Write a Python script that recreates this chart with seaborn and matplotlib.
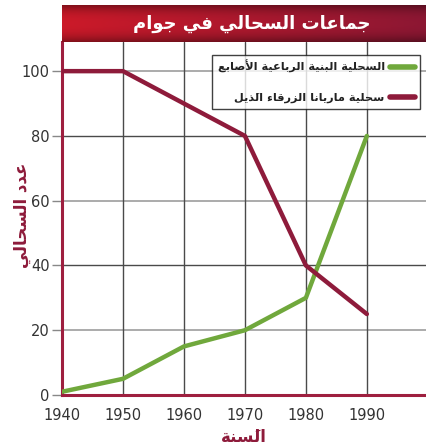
import numpy as np
import pandas as pd
import matplotlib
matplotlib.use("Agg")
import matplotlib.pyplot as plt
import seaborn as sns

# ---- data -------------------------------------------------------------
years = [1940, 1950, 1960, 1970, 1980, 1990]
brown_anole = [1, 5, 15, 20, 30, 80]          # السحلية البنية الرباعية الأصابع
blue_tailed_skink = [100, 100, 90, 80, 40, 25]  # سحلية ماريانا الزرقاء الذيل
series_names = ["السحلية البنية الرباعية الأصابع", "سحلية ماريانا الزرقاء الذَيل"]
y_ticks = [0, 20, 40, 60, 80, 100]
title_text = "جماعات السحالي في جوام"
x_label = "السَنة"
y_label = "عدد السحالي"

# ---- minimal Arabic shaping (presentation forms + visual order) --------
# forms: isolated, final, initial, medial
FORMS = {
    'ا': ('\uFE8D', '\uFE8E', None, None),
    'أ': ('\uFE83', '\uFE84', None, None),
    'ء': ('\uFE80', None, None, None),
    'ب': ('\uFE8F', '\uFE90', '\uFE91', '\uFE92'),
    'ة': ('\uFE93', '\uFE94', None, None),
    'ت': ('\uFE95', '\uFE96', '\uFE97', '\uFE98'),
    'ج': ('\uFE9D', '\uFE9E', '\uFE9F', '\uFEA0'),
    'ح': ('\uFEA1', '\uFEA2', '\uFEA3', '\uFEA4'),
    'د': ('\uFEA9', '\uFEAA', None, None),
    'ذ': ('\uFEAB', '\uFEAC', None, None),
    'ر': ('\uFEAD', '\uFEAE', None, None),
    'ز': ('\uFEAF', '\uFEB0', None, None),
    'س': ('\uFEB1', '\uFEB2', '\uFEB3', '\uFEB4'),
    'ص': ('\uFEB9', '\uFEBA', '\uFEBB', '\uFEBC'),
    'ع': ('\uFEC9', '\uFECA', '\uFECB', '\uFECC'),
    'ف': ('\uFED1', '\uFED2', '\uFED3', '\uFED4'),
    'ق': ('\uFED5', '\uFED6', '\uFED7', '\uFED8'),
    'ل': ('\uFEDD', '\uFEDE', '\uFEDF', '\uFEE0'),
    'م': ('\uFEE1', '\uFEE2', '\uFEE3', '\uFEE4'),
    'ن': ('\uFEE5', '\uFEE6', '\uFEE7', '\uFEE8'),
    'ه': ('\uFEE9', '\uFEEA', '\uFEEB', '\uFEEC'),
    'و': ('\uFEED', '\uFEEE', None, None),
    'ي': ('\uFEF1', '\uFEF2', '\uFEF3', '\uFEF4'),
    'لا': ('\uFEFB', '\uFEFC', None, None),
    'لأ': ('\uFEF7', '\uFEF8', None, None),
}
MARKS = set('\u064B\u064C\u064D\u064E\u064F\u0650\u0651\u0652')


def shape(text):
    # split into letter clusters (letter + following marks), with lam-alef ligatures
    clusters = []
    i = 0
    while i < len(text):
        ch = text[i]
        if ch in MARKS and clusters:
            clusters[-1][1].append(ch)
            i += 1
            continue
        if ch == 'ل' and i + 1 < len(text) and text[i + 1] in 'اأ':
            clusters.append([ch + text[i + 1], []])
            i += 2
            continue
        clusters.append([ch, []])
        i += 1

    def dual(c):
        return c in FORMS and FORMS[c][2] is not None

    def joins(c):
        return c in FORMS and FORMS[c][1] is not None

    out = []
    for k, (base, marks) in enumerate(clusters):
        if base not in FORMS:
            out.append(base + ''.join(marks))
            continue
        prev_c = clusters[k - 1][0] if k > 0 else None
        next_c = clusters[k + 1][0] if k + 1 < len(clusters) else None
        jp = prev_c is not None and dual(prev_c) and joins(base)
        jn = next_c is not None and dual(base) and joins(next_c)
        iso, fin, ini, med = FORMS[base]
        if jp and jn:
            g = med
        elif jp:
            g = fin
        elif jn:
            g = ini
        else:
            g = iso
        out.append(g + ''.join(marks))
    return ''.join(reversed(out))


# ---- figure -------------------------------------------------------------
sns.set_theme(style="white")
plt.rcParams["font.family"] = ["DejaVu Sans"]

W, H = 426, 447
fig = plt.figure(figsize=(W / 100, H / 100), dpi=100)

red = "#8e1b3b"
green = "#70a83c"
spine_red = "#9e1f3f"

ax = fig.add_axes([62 / W, (H - 395) / H, (W - 62) / W, (395 - 42) / H])

df = pd.DataFrame({
    "year": years * 2,
    "count": brown_anole + blue_tailed_skink,
    "species": [shape(series_names[0])] * len(years) + [shape(series_names[1])] * len(years),
})
palette = {shape(series_names[0]): green, shape(series_names[1]): red}

# grid
for yv in y_ticks[1:]:
    dark = (yv // 20) % 2 == 0
    ax.axhline(yv, color="#4a4a4a" if dark else "#ababab",
               lw=1.0 if dark else 1.4, zorder=0)
for xv in years[1:]:
    ax.axvline(xv, color="#4a4a4a", lw=1.0, zorder=0)

sns.lineplot(data=df, x="year", y="count", hue="species", palette=palette,
             linewidth=3.2, ax=ax, legend=True, zorder=3)

ax.set_xlim(1940, 1999.7)
ax.set_ylim(0, 109)
ax.set_xticks(years)
ax.set_yticks(y_ticks)
ax.tick_params(axis="x", length=0, pad=9, labelsize=10.5, labelcolor="#333333")
ax.tick_params(axis="y", length=7, width=1, color="#888888", direction="out",
               pad=2, labelsize=10.5, labelcolor="#333333", left=True)
ax.set_xlabel("")
ax.set_ylabel("")

for s in ["top", "right"]:
    ax.spines[s].set_visible(False)
for s in ["left", "bottom"]:
    ax.spines[s].set_color(spine_red)
    ax.spines[s].set_linewidth(2.2)

# legend (right-to-left: line after text)
handles, labels = ax.get_legend_handles_labels()
leg = ax.legend(handles, labels, loc="upper right",
                bbox_to_anchor=(420 / W, (H - 55) / H),
                bbox_transform=fig.transFigure, borderaxespad=0,
                markerfirst=False, frameon=True, fancybox=False,
                handlelength=2.2, handletextpad=0.45, labelspacing=1.75,
                borderpad=0.45, prop={"weight": "bold", "size": 8.2})
leg.get_frame().set_edgecolor("#111111")
leg.get_frame().set_linewidth(1.0)
for t in leg.get_texts():
    t.set_color("#222222")
for ln in leg.get_lines():
    ln.set_linewidth(4)

# axis labels
fig.text(244 / W, 1 - 437 / H, shape(x_label), ha="center", va="center",
         color=red, fontsize=12, fontweight="bold")
fig.text(22 / W, 1 - 215 / H, shape(y_label), ha="center", va="center",
         rotation=90, color=red, fontsize=12, fontweight="bold")

# title banner with gradient
bax = fig.add_axes([62 / W, (H - 42) / H, (W - 62) / W, (42 - 5) / H])
nx, ny = 300, 40
left_c = np.array([0.80, 0.10, 0.16])
right_c = np.array([0.55, 0.09, 0.20])
tx = np.linspace(0, 1, nx)[None, :, None]
grad = left_c * (1 - tx) + right_c * tx
ty = np.linspace(-1, 1, ny)[:, None, None]
shade = 1 - 0.35 * np.abs(ty) ** 2.5
img = np.clip(grad * shade, 0, 1)
bax.imshow(img, aspect="auto", extent=(0, 1, 0, 1))
bax.set_xlim(0, 1)
bax.set_ylim(0, 1)
bax.axis("off")
bax.text(0.52, 0.5, shape(title_text), ha="center", va="center",
         color="white", fontsize=13, fontweight="bold")

fig.savefig("out.png", dpi=100)
